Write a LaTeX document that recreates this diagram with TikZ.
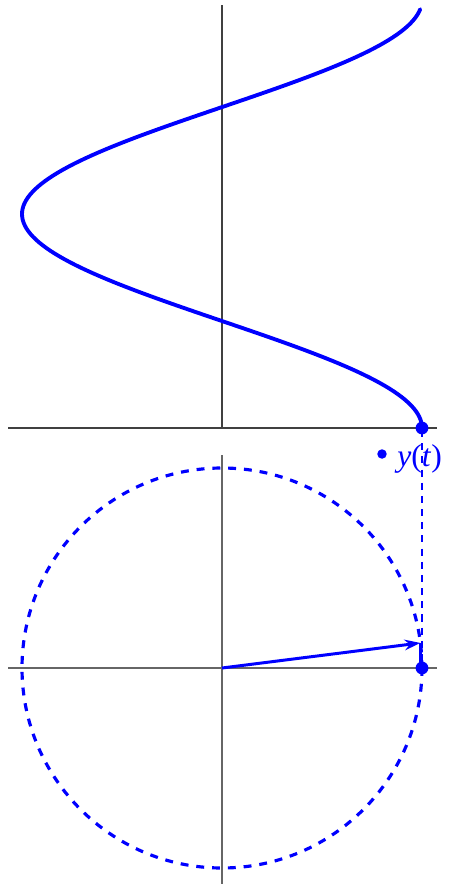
\documentclass[tikz,border=0pt]{standalone}
\usepackage{fontspec}
\setmainfont{Liberation Serif}
\usetikzlibrary{arrows.meta}
\definecolor{pureblue}{RGB}{0,0,255}
\tikzset{
  axisline/.style={line width=0.85pt, draw=black!75},
  axislow/.style={line width=0.85pt, draw=black!60},
  curveline/.style={line width=2.2pt, draw=pureblue, line cap=round},
  circdash/.style={line width=1.8pt, draw=pureblue, dash pattern=on 4.5pt off 4.5pt},
  thindash/.style={line width=0.7pt, draw=pureblue, dash pattern=on 4pt off 3.5pt},
  bigdot/.style={circle, fill=pureblue, inner sep=0pt, minimum size=7.3pt},
  smalldot/.style={circle, fill=pureblue, inner sep=0pt, minimum size=5.4pt},
}
\begin{document}
\begin{tikzpicture}[x=0.02cm, y=-0.02cm]
\useasboundingbox (0,0) rectangle (450,886);
% coordinates
\coordinate (UL) at (8,428);
\coordinate (UR) at (437,428);
\coordinate (UT) at (222,5);
\coordinate (UB) at (222,428);
\coordinate (LL) at (8,668);
\coordinate (LR) at (437,668);
\coordinate (LT) at (222,455);
\coordinate (LB) at (222,884);
\coordinate (O) at (222,668);
\coordinate (P) at ({222+200*cos(7.2)},{668-200*sin(7.2)});
\coordinate (Q) at ({222+200*cos(7.2)},668);
% axes
\draw[axisline] (UL) -- (UR);
\draw[axisline] (UT) -- (UB);
\draw[axislow] (LL) -- (LR);
\draw[axislow] (LT) -- (LB);
% dashed circle
\draw[circdash] (O) circle[radius=200];
% thin dashed projection
\draw[thindash] (422,430) -- (422,668);
% curve
\draw[curveline] plot[domain=0:6.15, samples=150, variable=\t] ({222+200*cos(\t r)},{428-68.1*\t});
% arrow
\draw[line width=1.7pt, pureblue, -{Stealth[length=9pt,width=6pt]}] (O) -- (P);
\draw[line width=1.4pt, pureblue] (P) -- (Q);
% dots
\node[bigdot] (D1) at (422,428) {};
\node[bigdot] (D2) at (422,668) {};
\node[smalldot] (D3) at (382,454) {};
\node[anchor=base west, inner sep=0pt, text=pureblue, font=\fontsize{18}{21}\selectfont] (lab) at (397,466) {\textit{y}(\textit{t})};
\end{tikzpicture}
\end{document}
